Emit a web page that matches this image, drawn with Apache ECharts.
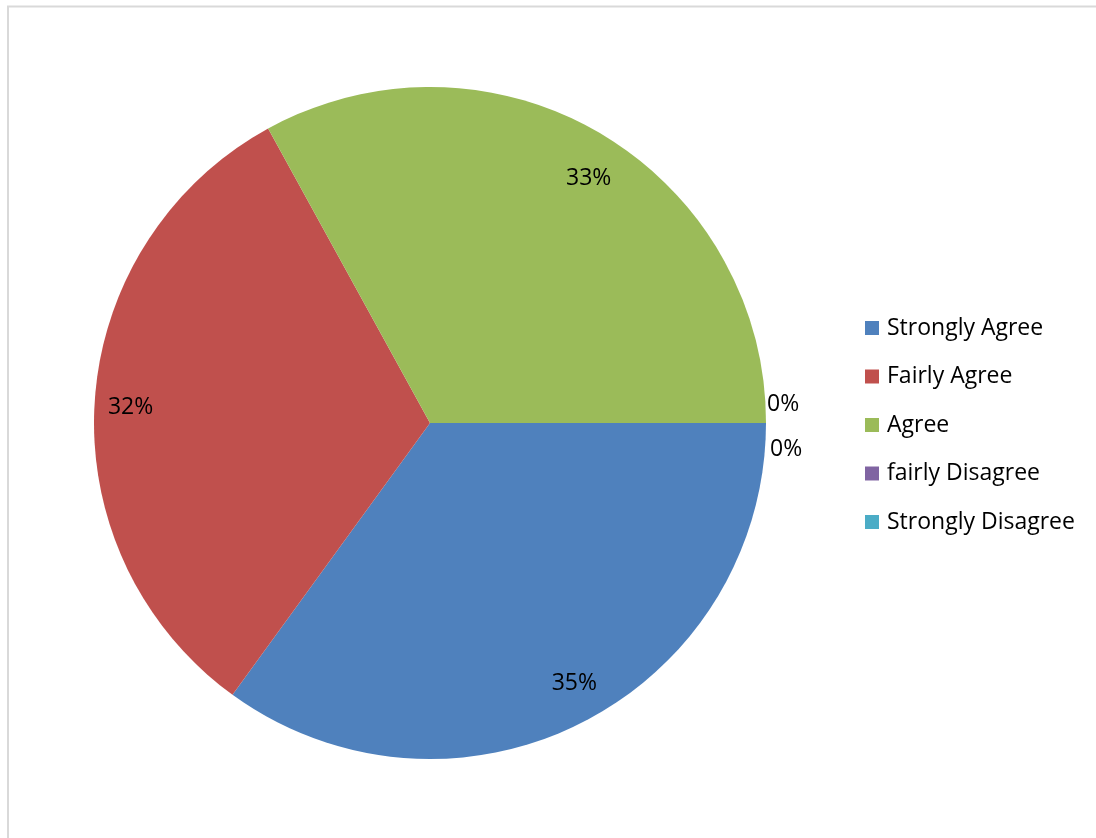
<!DOCTYPE html>
<html>
<head>
<meta charset="utf-8">
<script src="https://cdn.jsdelivr.net/npm/echarts@6/dist/echarts.min.js"></script>
<style>
  html, body { margin: 0; padding: 0; background: #ffffff; }
  #chart { width: 1096px; height: 838px; }
</style>
</head>
<body>
<div id="chart"></div>
<script>
// Survey responses, share of each answer (%)
var categories = ['Strongly Agree', 'Fairly Agree', 'Agree', 'fairly Disagree', 'Strongly Disagree'];
var values = [35, 32, 33, 0, 0];
var colors = ['#4F81BD', '#C0504D', '#9BBB59', '#8064A2', '#4BACC6'];

var FONT = '"Open Sans", "Liberation Sans", sans-serif';
var FONT_SIZE = 23;
var CENTER = [430, 423];
var R = 336;

function pct(p) { return Math.round(p.percent) + '%'; }

// Zero-share answers get their label just outside the rim, split above/below
var zeroOffsets = [[-6, -19], [-3, 26]];
// Small nudges for the rim labels of the non-zero slices
var rimNudges = [[9, -5], [-2, 3], [7, 12]];
var zeroIdx = 0;

var mainData = categories.map(function (name, i) {
  var item = { name: name, value: values[i], itemStyle: { color: colors[i] } };
  if (values[i] === 0) {
    item.label = { show: true, position: 'outside', offset: zeroOffsets[zeroIdx++] || [0, 0] };
  }
  return item;
});

// Label ring near the rim for the non-zero slices
var ringData = categories.map(function (name, i) {
  return {
    name: name,
    value: values[i],
    itemStyle: { color: 'rgba(0,0,0,0)' },
    label: { show: values[i] > 0, offset: rimNudges[i] || [0, 0] }
  };
});

var chart = echarts.init(document.getElementById('chart'), null, { renderer: 'canvas' });
chart.setOption({
  animation: false,
  color: colors,
  graphic: [{
    type: 'rect',
    silent: true,
    z: -10,
    shape: { x: 8, y: 6.5, width: 1200, height: 1000 },
    style: { fill: 'none', stroke: '#d9d9d9', lineWidth: 2 }
  }],
  legend: {
    orient: 'vertical',
    left: 865,
    top: 316,
    padding: 0,
    icon: 'rect',
    itemWidth: 14,
    itemHeight: 14,
    itemGap: 24.5,
    data: categories,
    textStyle: { fontFamily: FONT, fontSize: FONT_SIZE, color: '#000000', lineHeight: 24, padding: [0, 0, 0, 3] }
  },
  series: [
    {
      type: 'pie',
      center: CENTER,
      radius: [0, R],
      startAngle: 0,
      clockwise: true,
      avoidLabelOverlap: false,
      minShowLabelAngle: 0,
      label: {
        show: false,
        position: 'outside',
        formatter: pct,
        fontFamily: FONT,
        fontSize: FONT_SIZE,
        color: '#000000'
      },
      labelLine: { show: false, length: 2, length2: 0 },
      itemStyle: { borderWidth: 0 },
      emphasis: { disabled: true },
      data: mainData
    },
    {
      type: 'pie',
      center: CENTER,
      radius: [254, R],
      startAngle: 0,
      clockwise: true,
      silent: true,
      avoidLabelOverlap: false,
      label: {
        position: 'inside',
        formatter: pct,
        fontFamily: FONT,
        fontSize: FONT_SIZE,
        color: '#000000'
      },
      labelLine: { show: false },
      itemStyle: { borderWidth: 0 },
      emphasis: { disabled: true },
      tooltip: { show: false },
      data: ringData
    }
  ]
});
</script>
</body>
</html>
